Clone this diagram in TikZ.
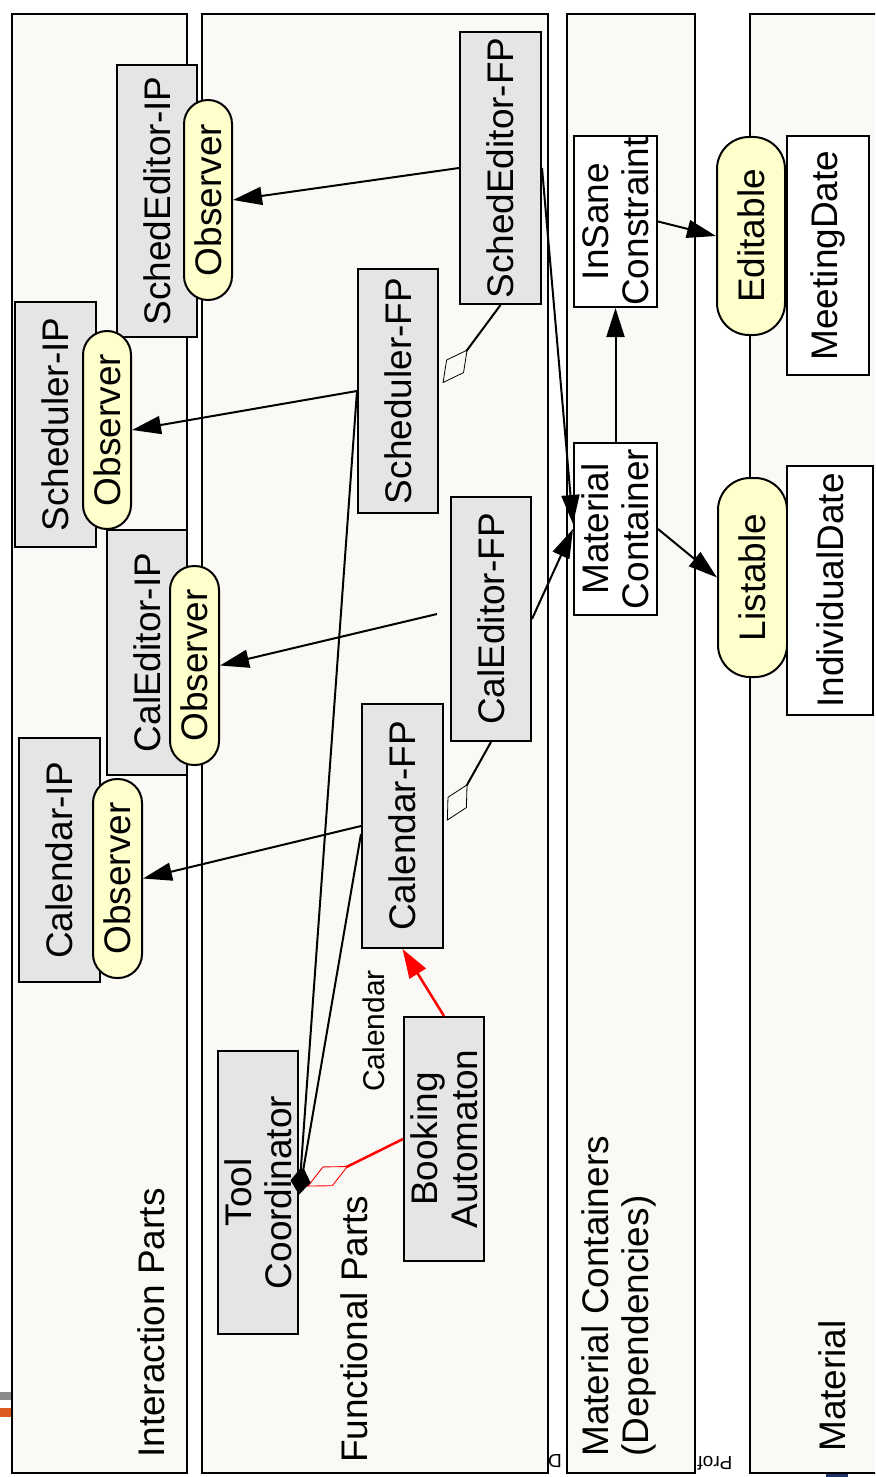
\documentclass[tikz,border=0pt]{standalone}
\usepackage{fontspec}
\setmainfont{Liberation Sans}
\usetikzlibrary{arrows.meta}
\definecolor{lanefill}{HTML}{FAF9F5}
\definecolor{partgray}{HTML}{E5E5E5}
\definecolor{roleyellow}{HTML}{FFFFCC}
\definecolor{footgray}{HTML}{8A8A8A}
\definecolor{footorange}{HTML}{DD5A1E}
\definecolor{footblue}{HTML}{1E3466}
\definecolor{linkred}{HTML}{FF0000}
\newcommand{\bigsize}{\fontsize{37}{40}\selectfont}
% text turned to read bottom-to-top
\newcommand{\vtext}[1]{\rotatebox{90}{#1}}
% two centred lines, turned
\newcommand{\vpair}[2]{\rotatebox{90}{\vbox{\baselineskip=40pt\lineskiplimit=0pt\halign{\hfil##\hfil\cr#1\cr#2\cr}}}}
% two left-aligned lines, turned
\newcommand{\vpairl}[2]{\rotatebox{90}{\vbox{\baselineskip=40pt\lineskiplimit=0pt\halign{##\hfil\cr#1\cr#2\cr}}}}
\begin{document}
\begin{tikzpicture}[x=1pt,y=-1pt,
  lanebox/.style={draw, line width=2.4pt, fill=lanefill, inner sep=0pt, minimum height=1459pt},
  part/.style={draw, line width=2pt, fill=partgray, inner sep=0pt, font=\bigsize},
  role/.style={draw, line width=2pt, fill=roleyellow, inner sep=0pt, font=\bigsize},
  matbox/.style={draw, line width=2pt, fill=white, inner sep=0pt, font=\bigsize},
  lanelabel/.style={anchor=south, inner sep=0pt, font=\bigsize},
  footnote/.style={rotate=180, inner sep=0pt, font=\fontsize{19}{21}\selectfont},
  arr/.style={line width=2pt, -{Triangle[length=29pt,width=18pt]}},
  redarr/.style={line width=2.5pt, draw=linkred, -{Triangle[length=29pt,width=19pt]}},
  agg/.style={line width=2pt, {Diamond[open,length=42pt,width=22pt,line width=0.8pt,sep=6pt]}-},
  comp/.style={line width=2pt, {Diamond[length=27pt,width=19pt]}-},
  redagg/.style={line width=2.5pt, draw=linkred, {Diamond[open,length=46pt,width=22pt,line width=0.9pt,sep=9pt]}-}
]
\useasboundingbox (0,0) rectangle (875,1477);
\clip (0,0) rectangle (875,1477);

% footer remnants of the slide
\fill[footgray] (0,1392) rectangle (12,1400);
\fill[footorange] (0,1408) rectangle (12,1417);
\node[footnote] (footA) at (715,1463) {Prof};
\node[footnote] (footB) at (555,1461) {D};
\fill[footblue] (826,1468) rectangle (848,1477);

% layers
\node[lanebox, minimum width=175pt] (lane1) at (99.5,743.5) {};
\node[lanebox, minimum width=346pt] (lane2) at (375,743.5) {};
\node[lanebox, minimum width=128pt] (lane3) at (631,743.5) {};
\node[lanebox, minimum width=150pt] (lane4) at (825,743.5) {};

\node[lanelabel] (lbl1) at (151,1458) {\vtext{Interaction Parts}};
\node[lanelabel] (lbl2) at (354,1463) {\vtext{Functional Parts}};
\node[lanelabel] (lbl3) at (619,1457) {\vpairl{Material Containers}{(Dependencies)}};
\node[lanelabel] (lbl4) at (832.5,1452) {\vtext{Material}};

% interaction parts
\node[part, minimum width=80pt, minimum height=272pt] (seip) at (157,201) {\vtext{SchedEditor-IP}};
\node[role, minimum width=48pt, minimum height=200pt, rounded corners=24pt] (seobs) at (208,200) {\vtext{Observer}};
\node[part, minimum width=81pt, minimum height=245pt] (scip) at (55.5,424.5) {\vtext{Scheduler-IP}};
\node[role, minimum width=48pt, minimum height=198pt, rounded corners=24pt] (scobs) at (107,430) {\vtext{Observer}};
\node[part, minimum width=80pt, minimum height=245pt] (ceip) at (147,652.5) {\vtext{CalEditor-IP}};
\node[role, minimum width=49pt, minimum height=199pt, rounded corners=24pt] (ceobs) at (194.5,665.5) {\vtext{Observer}};
\node[part, minimum width=81pt, minimum height=244pt] (caip) at (59.5,860) {\vtext{Calendar-IP}};
\node[role, minimum width=49pt, minimum height=199pt, rounded corners=24pt] (caobs) at (117.5,878.5) {\vtext{Observer}};

% functional parts
\node[part, minimum width=81pt, minimum height=272pt] (sefp) at (500.5,168) {\vtext{SchedEditor-FP}};
\node[part, minimum width=80pt, minimum height=244pt] (scfp) at (398,391) {\vtext{Scheduler-FP}};
\node[part, minimum width=80pt, minimum height=244pt] (cefp) at (491,619) {\vtext{CalEditor-FP}};
\node[part, minimum width=81pt, minimum height=244pt] (cafp) at (402.5,826) {\vtext{Calendar-FP}};
\node[part, minimum width=80pt, minimum height=244pt] (bafp) at (444,1139) {\vpair{Booking}{Automaton}};
\node[part, minimum width=80pt, minimum height=283pt] (tc) at (258,1192.5) {\vpair{Tool}{Coordinator}};
\node[inner sep=0pt, font=\fontsize{30}{34}\selectfont] (callbl) at (373.5,1031) {\vtext{Calendar}};

% material containers
\node[matbox, minimum width=83pt, minimum height=171pt] (insane) at (615.5,221.5) {\vpair{InSane}{Constraint}};
\node[matbox, minimum width=83pt, minimum height=172pt] (matc) at (615.5,529) {\vpair{Material}{Container}};

% material
\node[role, minimum width=68pt, minimum height=198pt, rounded corners=32pt] (editable) at (751,236) {\vtext{Editable}};
\node[matbox, minimum width=82pt, minimum height=239pt] (meeting) at (828,255.5) {\vtext{MeetingDate}};
\node[role, minimum width=69pt, minimum height=199pt, rounded corners=32pt] (listable) at (752.5,577.5) {\vtext{Listable}};
\node[matbox, minimum width=86pt, minimum height=249pt] (indiv) at (830,590.5) {\vtext{IndividualDate}};

% observer notifications
\draw[arr] (sefp.west) -- (seobs.east);
\draw[arr] (scfp.west) -- (scobs.east);
\draw[arr] ([xshift=-13pt,yshift=5pt]cefp.west) -- (ceobs.east);
\draw[arr] (cafp.west) -- (caobs.east);

% tool coordinator and automaton
\draw[redagg] ([yshift=2pt]tc.east) -- (bafp.west);
\draw[comp] ([yshift=-2pt]tc.east) -- (scfp.west);
\draw[comp] ([yshift=-2pt]tc.east) -- ([yshift=-8pt]cafp.west);
\draw[redarr] (bafp.north) -- (cafp.south);

% editor aggregations
\draw[agg] ([yshift=3pt]scfp.east) -- (sefp.south);
\draw[agg] (cafp.east) -- (cefp.south);

% material dependencies
\draw[arr] (sefp.east) -- ([yshift=5pt]matc.west);
\draw[arr] (cefp.east) -- (matc.west);
\draw[arr] (matc.north) -- (insane.south);
\draw[arr] (insane.east) -- (editable.west);
\draw[arr] (matc.east) -- (listable.west);
\end{tikzpicture}
\end{document}
